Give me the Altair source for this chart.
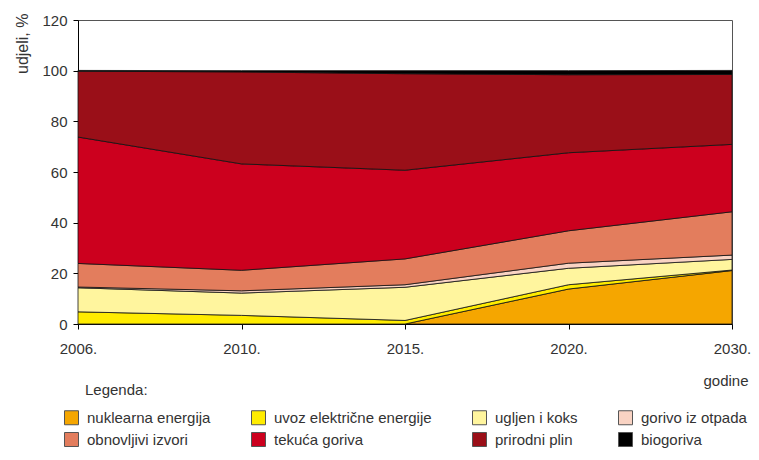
import altair as alt
import pandas as pd

years = ["2006.", "2010.", "2015.", "2020.", "2030."]
sources = [
    "nuklearna energija",
    "uvoz električne energije",
    "ugljen i koks",
    "gorivo iz otpada",
    "obnovljivi izvori",
    "tekuća goriva",
    "prirodni plin",
    "biogoriva",
]
nuklearna = [0.0, 0.0, 0.0, 13.8, 21.1]
uvoz = [4.8, 3.4, 1.4, 1.7, 0.2]
ugljen = [9.5, 8.8, 13.1, 6.5, 4.2]
otpad = [0.3, 0.9, 1.0, 2.0, 1.7]
obnovljivi = [9.3, 8.1, 10.2, 12.8, 17.1]
tekuca = [49.9, 42.0, 35.0, 30.8, 26.6]
plin = [26.0, 36.3, 38.1, 30.8, 27.6]
biogoriva = [0.3, 0.5, 1.2, 1.6, 1.6]
colors = ["#F5A600", "#FFEC00", "#FFF59E", "#F9D3C3", "#E37D5D", "#CC001E", "#9A0F18", "#000000"]

series = [nuklearna, uvoz, ugljen, otpad, obnovljivi, tekuca, plin, biogoriva]
rows = []
for i, (name, vals) in enumerate(zip(sources, series)):
    for y, v in zip(years, vals):
        rows.append({"godina": y, "izvor": name, "udio": v, "red": i})
df = pd.DataFrame(rows)

FONT = "Liberation Sans, Arial, sans-serif"
TXT = "#333333"

area = alt.Chart(df).mark_area(stroke="#111111", strokeWidth=0.8, strokeJoin="round").encode(
    x=alt.X("godina:N", sort=years, scale=alt.Scale(type="point", padding=0),
            axis=alt.Axis(title="godine", labelAngle=0, labelBaseline="alphabetic", labelPadding=24,
                          titleAnchor="end", titleAlign="right",
                          titleX=670, titleY=61, titleBaseline="alphabetic",
                          titleFontWeight="normal", titleFontSize=15)),
    y=alt.Y("udio:Q", stack="zero", scale=alt.Scale(domain=[0, 120], nice=False),
            axis=alt.Axis(title="udjeli, %", values=[0, 20, 40, 60, 80, 100, 120],
                          labelPadding=6,
                          titleAngle=-90, titleAlign="right", titleBaseline="top",
                          titleX=-64, titleY=-7, titleFontWeight="normal", titleFontSize=16)),
    color=alt.Color("izvor:N", sort=sources,
                    scale=alt.Scale(domain=sources, range=colors),
                    legend=alt.Legend(title=None, orient="none", legendX=-14, legendY=390,
                                      direction="horizontal", columns=4, columnPadding=38,
                                      rowPadding=3, labelLimit=400,
                                      symbolType="square", symbolSize=196,
                                      symbolStrokeColor="#555555", symbolStrokeWidth=1,
                                      labelFontSize=15, labelFont=FONT, labelColor=TXT,
                                      labelOffset=8)),
    order=alt.Order("red:Q", sort="ascending"),
)

legtitle = alt.Chart(alt.Data(values=[{"t": "Legenda:"}])).mark_text(
    align="left", baseline="alphabetic", fontSize=15, font=FONT, color=TXT
).encode(text="t:N", x=alt.value(7), y=alt.value(375))

chart = alt.layer(area, legtitle).properties(
    width=654, height=304,
    autosize=alt.AutoSizeParams(type="none"),
    padding={"left": 70, "top": 12, "right": 19, "bottom": 124},
).configure_view(stroke="#555555", strokeWidth=1).configure_axis(
    grid=False, domainColor="#000000", tickColor="#000000", tickSize=5,
    labelFont=FONT, titleFont=FONT, labelFontSize=15, labelColor=TXT,
    titleColor=TXT,
)

chart.save("out.html", embed_options={"renderer": "svg", "actions": False})
